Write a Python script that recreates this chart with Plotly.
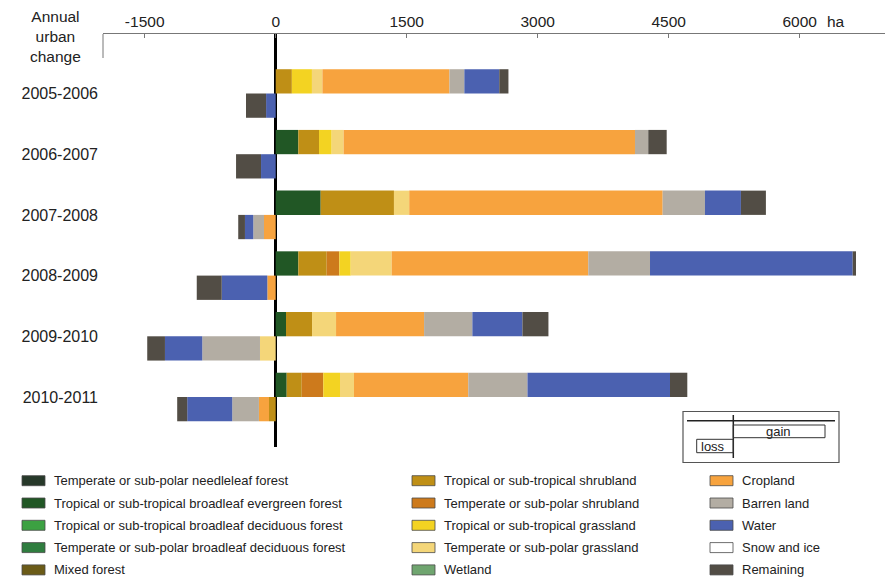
import plotly.graph_objects as go

# ---------------- data ----------------
years = ["2005-2006", "2006-2007", "2007-2008", "2008-2009", "2009-2010", "2010-2011"]

categories = [
    "Temperate or sub-polar needleleaf forest",
    "Tropical or sub-tropical broadleaf evergreen forest",
    "Tropical or sub-tropical broadleaf deciduous forest",
    "Temperate or sub-polar broadleaf deciduous forest",
    "Mixed forest",
    "Tropical or sub-tropical shrubland",
    "Temperate or sub-polar shrubland",
    "Tropical or sub-tropical grassland",
    "Temperate or sub-polar grassland",
    "Wetland",
    "Cropland",
    "Barren land",
    "Water",
    "Snow and ice",
    "Remaining",
]

colors = [
    "#27392a", "#215725", "#3ca142", "#2f7d3f", "#6b5b17",
    "#bf8f16", "#cd7a1c", "#f3d322", "#f4d679", "#6fa56f",
    "#f7a33e", "#b3ada3", "#4b61b0", "#ffffff", "#524d45",
]

# gains (ha) per land-cover class, one value per year
gain_trop_broadleaf_evergreen = [0, 259, 515, 259, 118, 126]
gain_trop_shrubland = [185, 237, 839, 325, 298, 172]
gain_temp_shrubland = [0, 0, 0, 144, 0, 247]
gain_trop_grassland = [230, 145, 0, 131, 0, 191]
gain_temp_grassland = [120, 137, 175, 469, 275, 160]
gain_cropland = [1455, 3336, 2902, 2251, 1008, 1309]
gain_barren = [170, 152, 484, 707, 553, 678]
gain_water = [400, 0, 412, 2321, 573, 1632]
gain_remaining = [105, 211, 286, 38, 298, 198]

# losses (ha, positive magnitudes) per land-cover class
loss_trop_shrubland = [0, 0, 0, 0, 0, 77]
loss_temp_grassland = [0, 0, 0, 0, 180, 0]
loss_cropland = [0, 0, 134, 96, 0, 115]
loss_barren = [0, 0, 123, 0, 661, 306]
loss_water = [110, 168, 95, 522, 427, 515]
loss_remaining = [230, 286, 77, 286, 203, 115]

x_tick_vals = [-1500, 0, 1500, 3000, 4500, 6000]

gains = {
    "Tropical or sub-tropical broadleaf evergreen forest": gain_trop_broadleaf_evergreen,
    "Tropical or sub-tropical shrubland": gain_trop_shrubland,
    "Temperate or sub-polar shrubland": gain_temp_shrubland,
    "Tropical or sub-tropical grassland": gain_trop_grassland,
    "Temperate or sub-polar grassland": gain_temp_grassland,
    "Cropland": gain_cropland,
    "Barren land": gain_barren,
    "Water": gain_water,
    "Remaining": gain_remaining,
}
losses = {
    "Tropical or sub-tropical shrubland": loss_trop_shrubland,
    "Temperate or sub-polar grassland": loss_temp_grassland,
    "Cropland": loss_cropland,
    "Barren land": loss_barren,
    "Water": loss_water,
    "Remaining": loss_remaining,
}

# ---------------- layout geometry ----------------
W, H = 885, 580
PL, PR, PT, PB = 103, 885, 34, 447   # plot area in pixels
X0_PX, PX_PER_HA = 275.7, 131.0 / 1500.0
x_range = [(PL - X0_PX) / PX_PER_HA, (PR - X0_PX) / PX_PER_HA]
ROW_PX = 60.7
Y0_PX = 93.5
y_top = -(Y0_PX - PT) / ROW_PX
y_bot = y_top + (PB - PT) / ROW_PX


def px2x(px):
    return (px - PL) / (PR - PL)


def px2y(py):
    return 1 - (py - PT) / (PB - PT)


FONT = "Liberation Sans, Arial, sans-serif"
TXT = "#222222"

fig = go.Figure()

n = len(years)
y_gain = [k - 0.2 for k in range(n)]
y_loss = [k + 0.2 for k in range(n)]

for cat, col in zip(categories, colors):
    g = gains.get(cat, [0] * n)
    l = losses.get(cat, [0] * n)
    fig.add_trace(go.Bar(
        name=cat,
        orientation="h",
        y=y_gain + y_loss,
        x=list(g) + [-v for v in l],
        width=0.4,
        marker=dict(color=col, line=dict(width=0)),
        showlegend=False,
        hovertemplate=cat + ": %{x} ha<extra></extra>",
    ))

fig.update_layout(
    width=W, height=H,
    margin=dict(l=PL, r=W - PR, t=PT, b=H - PB, autoexpand=False),
    barmode="relative",
    paper_bgcolor="white",
    plot_bgcolor="white",
    font=dict(family=FONT, color=TXT, size=15),
    showlegend=False,
)

fig.update_xaxes(
    side="top",
    range=x_range,
    tickvals=x_tick_vals,
    ticktext=[str(v) for v in x_tick_vals],
    tickfont=dict(size=15.5, color=TXT),
    ticks="inside", ticklen=4, tickcolor="#777777",
    showline=True, linecolor="#777777", linewidth=1,
    showgrid=False,
    zeroline=True, zerolinecolor="black", zerolinewidth=3,
    automargin=False,
)
fig.update_yaxes(
    range=[y_bot, y_top],
    tickvals=list(range(n)),
    ticktext=years,
    tickfont=dict(size=16, color=TXT),
    ticklabelstandoff=4,
    showgrid=False, zeroline=False, showline=False, ticks="",
    automargin=False,
)

shapes = []
annotations = []

# "ha" unit label next to the 6000 tick
annotations.append(dict(xref="x", yref="paper", x=6000, y=px2y(22), xshift=36,
                        text="ha", showarrow=False, font=dict(size=15.5, color=TXT),
                        xanchor="center", yanchor="middle"))
# header of the category axis
annotations.append(dict(xref="paper", yref="paper", x=px2x(55), y=px2y(37),
                        text="Annual<br>urban<br>change", showarrow=False,
                        font=dict(size=15.5, color=TXT), align="center",
                        xanchor="center", yanchor="middle"))
# short left frame stub
shapes.append(dict(type="line", xref="paper", yref="paper",
                   x0=px2x(103), x1=px2x(103), y0=px2y(34), y1=px2y(58),
                   line=dict(color="#777777", width=1)))

# gain / loss key box
key_line = dict(color="#333333", width=1)
shapes += [
    dict(type="rect", xref="paper", yref="paper", x0=px2x(683), x1=px2x(839),
         y0=px2y(411.5), y1=px2y(462.5), line=dict(color="#555555", width=1.2)),
    dict(type="line", xref="paper", yref="paper", x0=px2x(687), x1=px2x(835),
         y0=px2y(420.7), y1=px2y(420.7), line=dict(color="#222222", width=1.5)),
    dict(type="line", xref="paper", yref="paper", x0=px2x(733.3), x1=px2x(733.3),
         y0=px2y(415), y1=px2y(458), line=dict(color="#222222", width=1.5)),
    dict(type="rect", xref="paper", yref="paper", x0=px2x(733.3), x1=px2x(825),
         y0=px2y(425), y1=px2y(437.7), line=key_line),
    dict(type="rect", xref="paper", yref="paper", x0=px2x(696.7), x1=px2x(733.3),
         y0=px2y(439.3), y1=px2y(452.7), line=key_line),
]
annotations += [
    dict(xref="paper", yref="paper", x=px2x(778), y=px2y(431.5), text="gain",
         showarrow=False, font=dict(size=13, color=TXT), xanchor="center", yanchor="middle"),
    dict(xref="paper", yref="paper", x=px2x(713), y=px2y(446), text="loss",
         showarrow=False, font=dict(size=13, color=TXT), xanchor="center", yanchor="middle"),
]

# legend (3 columns x 5 rows)
col_x = [22, 412, 710]
row_y0, row_dy = 480.7, 22.3
for i, (cat, col) in enumerate(zip(categories, colors)):
    c, r = divmod(i, 5)
    cx = col_x[c]
    cy = row_y0 + r * row_dy
    shapes.append(dict(type="rect", xref="paper", yref="paper",
                       x0=px2x(cx), x1=px2x(cx + 23), y0=px2y(cy - 5), y1=px2y(cy + 5),
                       fillcolor=col, line=dict(color="#4a4a4a", width=0.8)))
    annotations.append(dict(xref="paper", yref="paper", x=px2x(cx + 30), y=px2y(cy),
                            text=cat, showarrow=False, font=dict(size=13, color=TXT),
                            xanchor="left", yanchor="middle"))

fig.update_layout(shapes=shapes, annotations=annotations)

fig.write_html(
    "out.html",
    config={"displayModeBar": False},
    post_script="document.body.style.margin='0';document.body.style.padding='0';",
)
